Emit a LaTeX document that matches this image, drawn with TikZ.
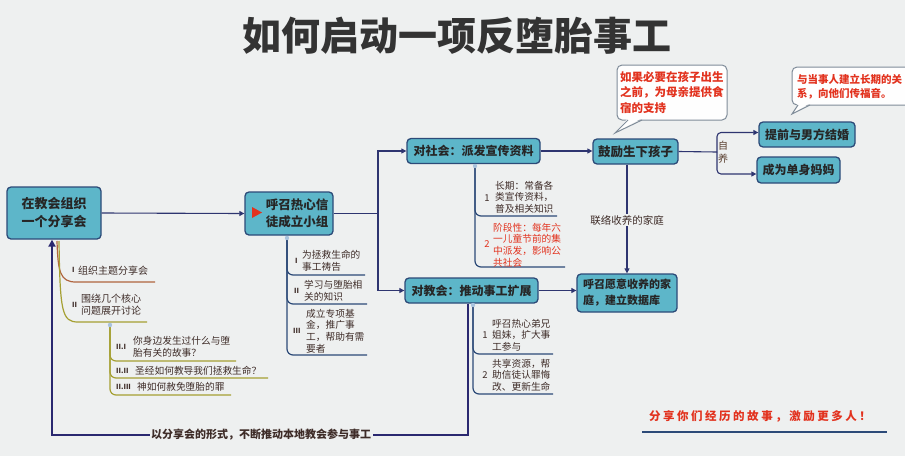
\documentclass[tikz,border=0pt]{standalone}
\usepackage{fontspec}
\setmainfont{Noto Sans CJK SC}
\newfontfamily\spacedfont{Noto Sans CJK SC}[LetterSpace=22]
\usetikzlibrary{arrows.meta}
\definecolor{bgc}{HTML}{EEF0F0}
\definecolor{boxfill}{HTML}{5DB6C9}
\definecolor{boxline}{HTML}{2C4A78}
\definecolor{conncol}{HTML}{2E3570}
\definecolor{retcol}{HTML}{2A2870}
\definecolor{redtxt}{HTML}{E2321E}
\definecolor{subtxt}{HTML}{3E2C28}
\definecolor{brownln}{HTML}{B0653F}
\definecolor{oliveln}{HTML}{A5A033}
\definecolor{dotc}{HTML}{A9C3DD}
\definecolor{callln}{HTML}{7F8C99}
\definecolor{titlec}{HTML}{333333}
\tikzset{
  box/.style={draw=boxline, fill=boxfill, line width=1.3pt, rounded corners=4pt, inner sep=0pt,
    font=\bfseries\fontsize{12}{15}\selectfont, text=black!85, align=center},
  conn/.style={draw=conncol, line width=1.1pt, -{Triangle[length=5pt,width=5pt]}},
  retline/.style={draw=retcol, line width=2pt, -{Triangle[length=7pt,width=7pt]}},
  sub/.style={anchor=west, inner sep=0pt, align=left, text=subtxt, font=\fontsize{9.7}{11.6}\selectfont},
  num/.style={anchor=west, inner sep=0pt, text=subtxt, font=\bfseries\fontsize{7}{9}\selectfont},
  numc/.style={anchor=center, inner sep=0pt, text=subtxt, font=\fontsize{9.5}{11}\selectfont},
  subln/.style={draw=boxline, line width=1.2pt, rounded corners=6pt},
  oln/.style={draw=oliveln, line width=1.2pt, rounded corners=6pt},
  dot/.style={fill=dotc},
  callbox/.style={draw=callln, fill=white!96!bgc, line width=1pt},
  lbl/.style={inner sep=1.5pt, fill=bgc, text=subtxt}
}
\begin{document}
\begin{tikzpicture}[x=1pt,y=-1pt]
\path[use as bounding box] (0,0) rectangle (905,456);
\clip (0,0) rectangle (905,456);
\fill[bgc] (0,0) rectangle (905,456);

% title
\node[font=\bfseries\fontsize{39}{42}\selectfont, text=titlec, inner sep=0] (title) at (457,36) {如何启动一项反堕胎事工};

% main nodes
\node[box, minimum width=94pt, minimum height=52pt, font=\bfseries\fontsize{13}{18}\selectfont] (A) at (54,213) {在教会组织\\一个分享会};
\node[box, minimum width=88pt, minimum height=43pt] (B) at (289,213.5) {};
\node[font=\bfseries\fontsize{12.5}{17}\selectfont, align=left, inner sep=0, text=black!85] (Bt) at (297,213.5) {呼召热心信\\徒成立小组};
\fill[redtxt] (252,207) -- (262,212.5) -- (252,218) -- cycle;
\node[box, minimum width=133pt, minimum height=25pt] (C1) at (473.5,151) {对社会：派发宣传资料};
\node[box, minimum width=133pt, minimum height=25pt] (C2) at (471.5,290.5) {对教会：推动事工扩展};
\node[box, minimum width=85pt, minimum height=25pt, font=\bfseries\fontsize{12.5}{15}\selectfont] (D1) at (635.5,151.5) {鼓励生下孩子};
\node[box, minimum width=100pt, minimum height=38pt, font=\bfseries\fontsize{11}{16}\selectfont, align=left] (E) at (627,293) {呼召愿意收养的家\\庭，建立数据库};
\node[box, minimum width=96pt, minimum height=25pt] (F1) at (807,134.5) {提前与男方结婚};
\node[box, minimum width=83pt, minimum height=26pt] (F2) at (798.5,170) {成为单身妈妈};

% connectors
\coordinate (s1) at (378,213);
\coordinate (s2) at (717,152);
\draw[conn] (A.east) -- (B.west);
\draw[conn] (B.east) -- (B.east -| s1) |- (C1.west);
\draw[conn] (B.east -| s1) |- (C2.west);
\draw[conn] (C1.east) -- (C1.east -| D1.west);
\draw[conn] (C2.east) -- (C2.east -| E.west);
\draw[conn] (D1.south -| E.north) -- (E.north);
\node[lbl, font=\fontsize{10.5}{12}\selectfont] (adopt) at (627,220) {联络收养的家庭};
\draw[conn, -] (D1.east) -- (s2);
\draw[conn, rounded corners=4pt] (s2) |- ([yshift=2pt]F1.west);
\draw[conn, rounded corners=4pt] (s2) |- ([yshift=-4pt]F2.west);
\node[text=subtxt!80!brown, font=\fontsize{10}{11}\selectfont, inner sep=0] (zi) at (723,146) {自};
\node[text=subtxt!80!brown, font=\fontsize{10}{11}\selectfont, inner sep=0] (yang) at (723,159) {养};

% return connector
\coordinate (r1) at (468,435);
\coordinate (r2) at (52,435);
\draw[retline] (C2.south -| r1) -- (r1) -- (r2) -- (A.south -| r2);
\node[lbl, font=\bfseries\fontsize{11}{12}\selectfont] (retl) at (261,435) {以分享会的形式，不断推动本地教会参与事工};

% A sub list
\draw[brownln, line width=1.2pt] (57,241) .. controls (58,272) and (60,282) .. (76,282) -- (155,282);
\draw[oliveln, line width=1.2pt] (59,241) .. controls (60,312) and (62,322) .. (78,322) -- (147,322);
\draw[oln] (110,325) |- (236,361);
\draw[oln] (110,325) |- (268,378);
\draw[oln] (110,325) |- (231,395);
\fill[dot] (110,325) circle (2.2);
\node[num] (a1n) at (72,270) {I};
\node[sub, font=\fontsize{10}{12}\selectfont] (a1) at (78,271) {组织主题分享会};
\node[num] (a2n) at (72,305) {II};
\node[sub, font=\fontsize{10}{12}\selectfont] (a2) at (81,305) {围绕几个核心\\问题展开讨论};
\node[num] (a21n) at (116,347) {II.I};
\node[sub] (a21) at (133,347) {你身边发生过什么与堕\\胎有关的故事？};
\node[num] (a22n) at (116,371) {II.II};
\node[sub] (a22) at (135,371) {圣经如何教导我们拯救生命？};
\node[num] (a23n) at (116,387) {II.III};
\node[sub] (a23) at (137,387) {神如何赦免堕胎的罪};

% B sub list
\draw[subln] (287,238) |- (365,275);
\draw[subln] (287,238) |- (367,304);
\draw[subln] (287,238) |- (367,355);
\fill[dot] (287,238) circle (2.2);
\node[num] (b1n) at (295,261) {I};
\node[sub] (b1) at (302,261) {为拯救生命的\\事工祷告};
\node[num] (b2n) at (294,291) {II};
\node[sub] (b2) at (304,291) {学习与堕胎相\\关的知识};
\node[num] (b3n) at (293,331) {III};
\node[sub] (b3) at (306,331) {成立专项基\\金，推广事\\工，帮助有需\\要者};

% C1 sub list
\draw[subln] (475,165) |- (557,216);
\draw[subln] (475,165) |- (565,267);
\fill[dot] (475,166) circle (2.2);
\node[numc] (c11n) at (487,198) {1};
\node[sub] (c11) at (495,197) {长期：常备各\\类宣传资料，\\普及相关知识};
\node[numc, text=redtxt] (c12n) at (487,244) {2};
\node[sub, text=redtxt] (c12) at (493,245) {阶段性：每年六\\一儿童节前的集\\中派发，影响公\\共社会};

% C2 sub list
\draw[subln] (473,304) |- (553,354);
\draw[subln] (473,304) |- (553,394);
\fill[dot] (473,305) circle (2.2);
\node[numc] (c21n) at (485,335) {1};
\node[sub] (c21) at (492,335) {呼召热心弟兄\\姐妹，扩大事\\工参与};
\node[numc] (c22n) at (485,375) {2};
\node[sub] (c22) at (492,375) {共享资源，帮\\助信徒认罪悔\\改、更新生命};

% callout 1
\filldraw[callbox, rounded corners=5pt] (617,65) rectangle (727,120);
\fill[white!96!bgc] (628,118) -- (615,133) -- (642,118) -- cycle;
\draw[callln, line width=1pt] (628,120) -- (615,133) -- (642,120);
\node[anchor=west, align=left, text=redtxt, inner sep=0, font=\bfseries\fontsize{11.5}{15.5}\selectfont] (call1) at (620,92.5) {如果必要在孩子出生\\之前，为母亲提供食\\宿的支持};

% callout 2
\filldraw[callbox, rounded corners=5pt] (792,67) rectangle (930,105);
\fill[white!96!bgc] (798,103) -- (792,114) -- (810,103) -- cycle;
\draw[callln, line width=1pt] (798,105) -- (792,114) -- (810,105);
\node[anchor=west, align=left, text=redtxt, inner sep=0, font=\bfseries\fontsize{10.5}{14}\selectfont] (call2) at (797,87) {与当事人建立长期的关\\系，向他们传福音。};

% bottom slogan
\node[text=redtxt, inner sep=0, font=\spacedfont\bfseries\fontsize{11.5}{13}\selectfont] (slogan) at (760,416) {分享你们经历的故事，激励更多人！};
\draw[boxline, line width=1.2pt] (642,432) -- (887,432);
\end{tikzpicture}
\end{document}
